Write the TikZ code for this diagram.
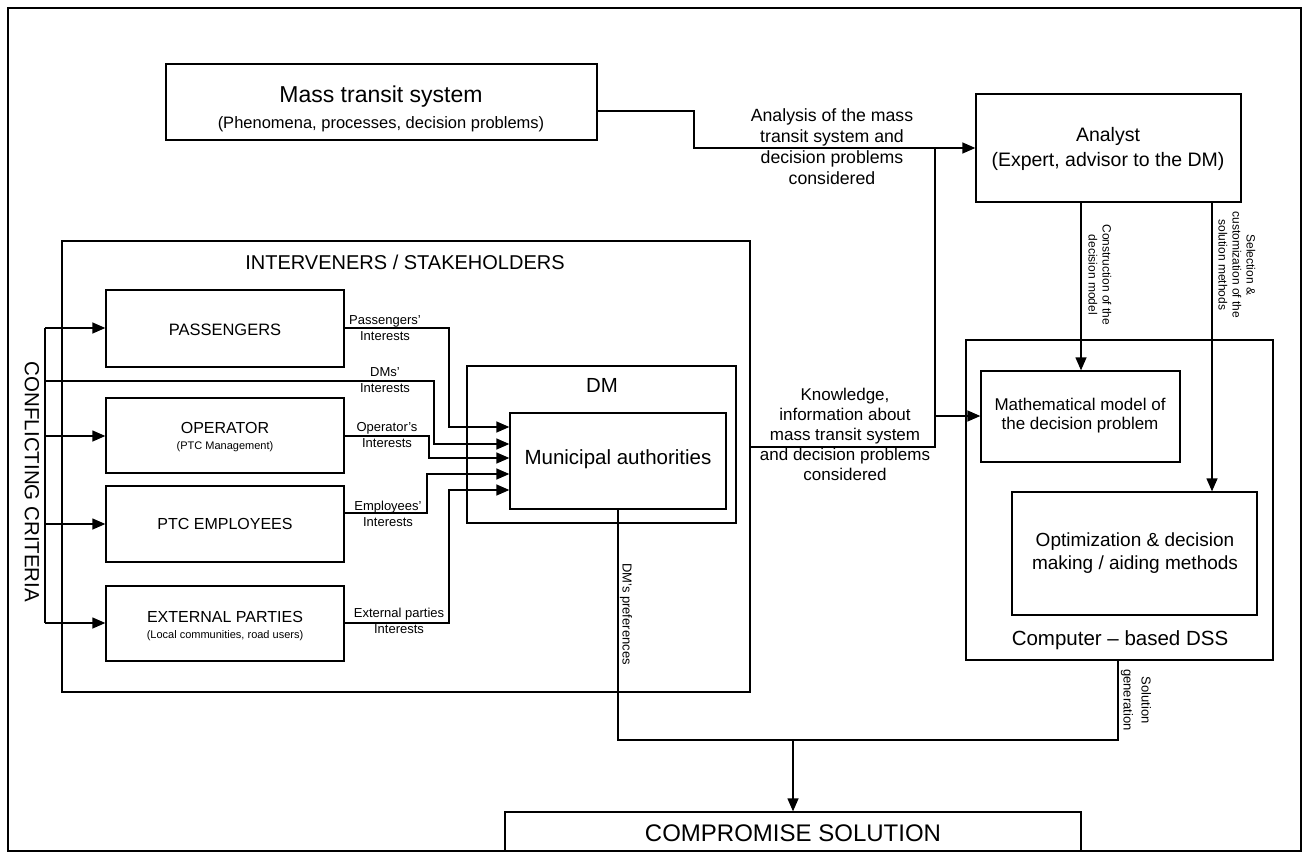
\documentclass[tikz,border=0pt]{standalone}
\usepackage{fontspec}
\setmainfont{Liberation Sans}
\usetikzlibrary{arrows.meta,fit}
\newcommand{\fs}[2]{\fontsize{#1}{#2}\selectfont}
\begin{document}
\begin{tikzpicture}[x=1pt,y=-1pt,
  line width=1.3pt,
  box/.style={draw, inner sep=0pt, line width=1.3pt},
  txt/.style={inner sep=0pt, align=center, text=black},
  lbl/.style={inner sep=0pt, align=center, font=\fs{13}{16}},
  rlbl/.style={inner sep=0pt, align=center, rotate=-90, font=\fs{12}{14}},
  arr/.style={-{Triangle[length=13pt,width=11pt]}},
]
\useasboundingbox (0,0) rectangle (1309,856);
\draw[line width=1.3pt] (8,8) rectangle (1301,851);

% boxes
\node[box, fit={(166,64)(597,140)}] (mts) {};
\node[box, fit={(976,94)(1241,202)}] (analyst) {};
\node[box, fit={(62,241)(750,692)}] (interv) {};
\node[box, fit={(106,290)(344,367)}] (pass) {};
\node[box, fit={(106,398)(344,473)}] (op) {};
\node[box, fit={(106,486)(344,562)}] (ptc) {};
\node[box, fit={(106,586)(344,661)}] (ext) {};
\node[box, fit={(467,366)(736,523)}] (dm) {};
\node[box, fit={(510,413)(726,509)}] (muni) {};
\node[box, fit={(966,340)(1273,660)}] (dss) {};
\node[box, fit={(981,371)(1180,462)}] (math) {};
\node[box, fit={(1012,492)(1257,615)}] (opt) {};
\node[box, fit={(505,812)(1081,851)}] (comp) {};

% box texts
\node[txt, font=\fs{23}{26}] (tmts1) at (381,97) {Mass transit system};
\node[txt, font=\fs{16.5}{19}] (tmts2) at (381,124) {(Phenomena, processes, decision problems)};
\node[txt, font=\fs{19.5}{23}] (tan1) at (1108,136) {Analyst};
\node[txt, font=\fs{19.5}{23}] (tan2) at (1108,161) {(Expert, advisor to the DM)};
\node[txt, font=\fs{20}{22}] (tint) at (405,262) {INTERVENERS / STAKEHOLDERS};
\node[txt, font=\fs{16.5}{19}] (tpass) at (225,330) {PASSENGERS};
\node[txt, font=\fs{16}{19}] (top1) at (225,428) {OPERATOR};
\node[txt, font=\fs{11}{13}] (top2) at (225,447) {(PTC Management)};
\node[txt, font=\fs{16}{19}] (tptc) at (225,524) {PTC EMPLOYEES};
\node[txt, font=\fs{16}{19}] (text1) at (225,617) {EXTERNAL PARTIES};
\node[txt, font=\fs{11}{13}] (text2) at (225,636) {(Local communities, road users)};
\node[txt, font=\fs{20.4}{24}] (tdm) at (602,385) {DM};
\node[txt, font=\fs{20.5}{24}] (tmuni) at (618,459) {Municipal authorities};
\node[txt, font=\fs{17}{19}] (tmath) at (1080,416) {Mathematical model of\\the decision problem};
\node[txt, font=\fs{19}{23}] (topt) at (1135,553) {Optimization \& decision\\making / aiding methods};
\node[txt, font=\fs{20.5}{24}] (tdss) at (1120,640) {Computer -- based DSS};
\node[txt, font=\fs{24}{28}] (tcomp) at (793,833) {COMPROMISE SOLUTION};
\node[txt, rotate=-90, font=\fs{20.5}{24}] (tcrit) at (32,482) {CONFLICTING CRITERIA};

% connector labels
\node[txt, font=\fs{17.7}{21}] (lanal) at (832,146.5) {Analysis of the mass\\transit system and\\decision problems\\considered};
\node[txt, font=\fs{17}{20}] (lknow) at (845,434) {Knowledge,\\information about\\mass transit system\\and decision problems\\considered};
\node[lbl] (lpass) at (385,328) {Passengers'\\Interests};
\node[lbl] (ldms) at (385,380.5) {DMs'\\Interests};
\node[lbl] (lop) at (387,435) {Operator's\\Interests};
\node[lbl] (lemp) at (388,514) {Employees'\\Interests};
\node[lbl] (lext) at (399,621) {External parties\\Interests};
\node[rlbl] (lcons) at (1100,275) {Construction of the\\decision model};
\node[rlbl] (lsel) at (1237,265) {Selection \&\\customization of the\\solution methods};
\node[rlbl, font=\fs{13}{15}] (lpref) at (626,614) {DM's preferences};
\node[rlbl, font=\fs{13}{18}] (lsol) at (1136,700) {Solution\\generation};

% coordinates
\coordinate (ct) at (45,328);
\coordinate (cb) at (45,623);
\coordinate (cdm) at (45,381);
\coordinate (kj) at (935,148);
\coordinate (join) at (793,740);

% connectors
\draw[arr] (mts.east |- 0,111) -| (694,148) -- (analyst.west |- 0,148);
\draw[arr] (kj) |- (math.west |- 0,416);
\draw (interv.east |- 0,447) -| (935,416);
\draw[arr] (analyst.south -| 1081,0) -- (math.north -| 1081,0);
\draw[arr] (analyst.south -| 1212,0) -- (opt.north -| 1212,0);

\draw (ct) -- (cb);
\draw[arr] (ct) -- (pass.west |- ct);
\draw[arr] (45,436) -- (op.west |- 0,436);
\draw[arr] (45,524) -- (ptc.west |- 0,524);
\draw[arr] (cb) -- (ext.west |- cb);

\draw[arr] (pass.east |- 0,328) -| (449,427) -- (muni.west |- 0,427);
\draw[arr] (cdm) -| (434,444) -- (muni.west |- 0,444);
\draw[arr] (op.east |- 0,436) -| (429,458) -- (muni.west |- 0,458);
\draw[arr] (ptc.east |- 0,513) -| (427,474) -- (muni.west |- 0,474);
\draw[arr] (ext.east |- 0,623) -| (449,490) -- (muni.west |- 0,490);

\draw (muni.south) |- (join) -| (dss.south -| 1118,0);
\draw[arr] (join) -- (comp.north);
\end{tikzpicture}
\end{document}
